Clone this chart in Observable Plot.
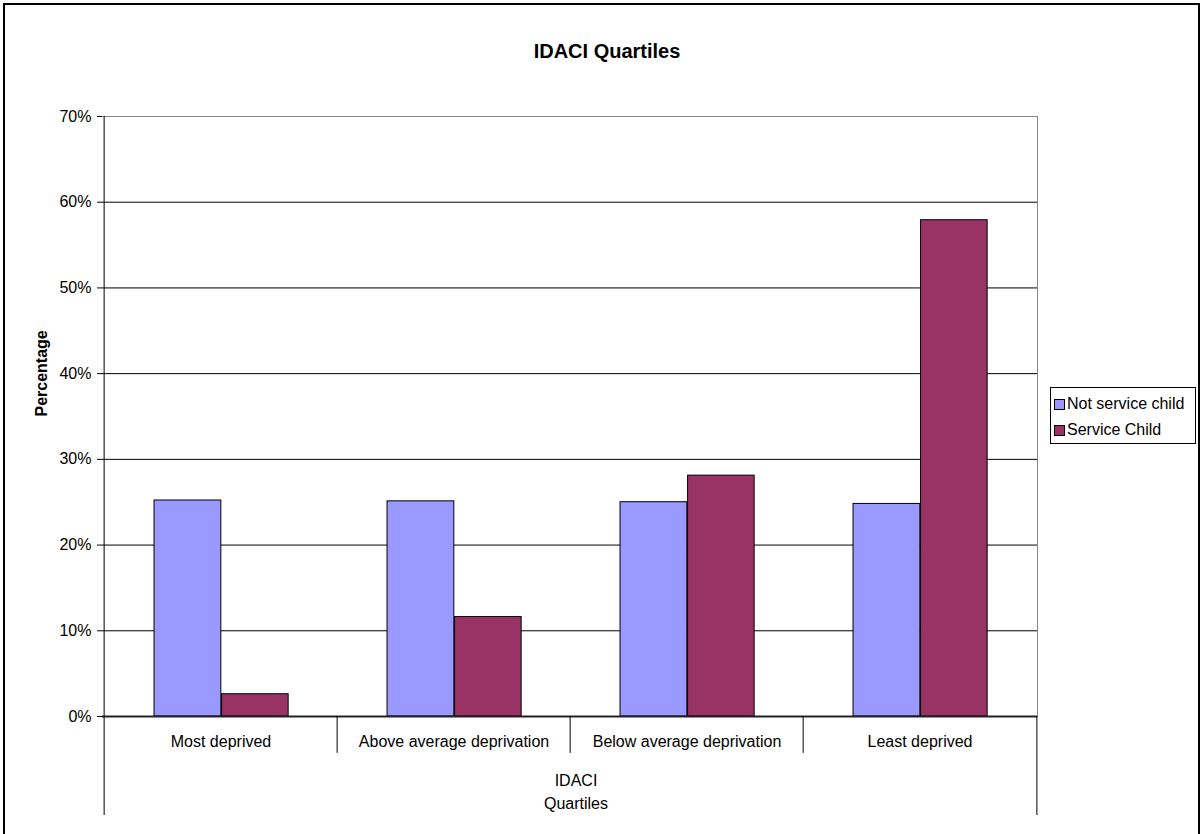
<!DOCTYPE html>
<html>
<head>
<meta charset="utf-8">
<script src="https://cdn.jsdelivr.net/npm/d3@7"></script>
<script src="https://cdn.jsdelivr.net/npm/@observablehq/plot@0.6"></script>
<style>
  html, body { margin: 0; padding: 0; background: #fff; }
  body { font-family: "Liberation Sans", Arial, sans-serif; }
  #wrap { position: relative; width: 1203px; height: 834px; overflow: hidden; }
  #border { position: absolute; left: 3px; top: 3px; width: 1197px; height: 900px; border: 2px solid #000; box-sizing: border-box; pointer-events: none; }
  #title { position: absolute; left: 607px; top: 41px; transform: translateX(-50%); font-size: 20px; line-height: 20px; font-weight: bold; white-space: nowrap; }
  #legend { position: absolute; left: 1050px; top: 387px; width: 146px; height: 57px; border: 1px solid #000; box-sizing: border-box; background: #fff; font-size: 16px; }
  .item { position: absolute; left: 3px; height: 20px; line-height: 20px; white-space: nowrap; }
  .sw { display: inline-block; width: 11px; height: 11px; border: 1px solid #000; box-sizing: border-box; margin-right: 2px; vertical-align: -1px; }
  #chart { position: absolute; left: 0; top: 0; }
</style>
</head>
<body>
<div id="wrap">
  <div id="chart"></div>
  <div id="title"></div>
  <div id="legend"></div>
  <div id="border"></div>
</div>
<script>
const title = "IDACI Quartiles";
const categories = ["Most deprived", "Above average deprivation", "Below average deprivation", "Least deprived"];
const seriesNames = ["Not service child", "Service Child"];
const notServiceChild = [0.252, 0.251, 0.250, 0.248];
const serviceChild = [0.026, 0.116, 0.281, 0.579];
const seriesColors = ["#9999FF", "#993366"];
const yTicks = [0, 0.1, 0.2, 0.3, 0.4, 0.5, 0.6, 0.7];
const yLabel = "Percentage";
const xLabel = "IDACI\nQuartiles";

const W = 1203, H = 834;
const mt = 116, ml = 102, mr = 166, mb = 118;
const bw = (W - ml - mr) / categories.length;

const rowsA = categories.map((c, i) => ({cat: c, value: notServiceChild[i], series: seriesNames[0]}));
const rowsB = categories.map((c, i) => ({cat: c, value: serviceChild[i], series: seriesNames[1]}));

const plot = Plot.plot({
  width: W,
  height: H,
  marginTop: mt,
  marginLeft: ml,
  marginRight: mr,
  marginBottom: mb,
  style: {fontFamily: '"Liberation Sans", Arial, sans-serif', fontSize: "16px", color: "#000", background: "transparent"},
  x: {domain: categories, padding: 0},
  y: {domain: [0, 0.7]},
  marks: [
    Plot.ruleY(yTicks.filter(t => t > 0 && t < 0.7), {stroke: "#000", strokeWidth: 1}),
    Plot.ruleY([0.7], {stroke: "#888"}),
    Plot.frame({anchor: "right", stroke: "#888"}),
    Plot.barY(rowsA, {x: "cat", y: "value", fill: seriesColors[0], stroke: "#000", strokeWidth: 1, insetLeft: bw * 0.214, insetRight: bw * 0.497}),
    Plot.barY(rowsB, {x: "cat", y: "value", fill: seriesColors[1], stroke: "#000", strokeWidth: 1, insetLeft: bw * 0.503, insetRight: bw * 0.209}),
    Plot.ruleY([0], {stroke: "#222", strokeWidth: 2}),
    Plot.ruleX(categories.slice(1), {x: d => d, dx: -bw / 2, y1: 0, y2: -0.043, stroke: "#000"}),
    Plot.ruleX([categories[0]], {x: d => d, dx: -bw / 2, y1: 0.7, y2: -0.1155, stroke: "#000"}),
    Plot.ruleX([categories[categories.length - 1]], {x: d => d, dx: bw / 2, y1: 0, y2: -0.1155, stroke: "#000"}),
    Plot.axisY({ticks: yTicks, tickFormat: d3.format(".0%"), tickSize: 5, tickPadding: 6, fontSize: 16, label: null}),
    Plot.axisX({tickSize: 0, tickPadding: 19, fontSize: 16, label: null}),
    Plot.text([yLabel], {frameAnchor: "left", dx: -61, rotate: -90, fontWeight: "bold", fontSize: 16}),
    Plot.text([xLabel], {frameAnchor: "bottom", lineAnchor: "top", dx: 6, dy: 54, fontSize: 16, lineHeight: 1.4})
  ]
});
document.getElementById("chart").appendChild(plot);
document.getElementById("title").textContent = title;

const legend = document.getElementById("legend");
seriesNames.forEach((name, i) => {
  const item = document.createElement("div");
  item.className = "item";
  item.style.top = (6 + i * 26) + "px";
  const sw = document.createElement("span");
  sw.className = "sw";
  sw.style.background = seriesColors[i];
  item.appendChild(sw);
  item.appendChild(document.createTextNode(name));
  legend.appendChild(item);
});
</script>
</body>
</html>
